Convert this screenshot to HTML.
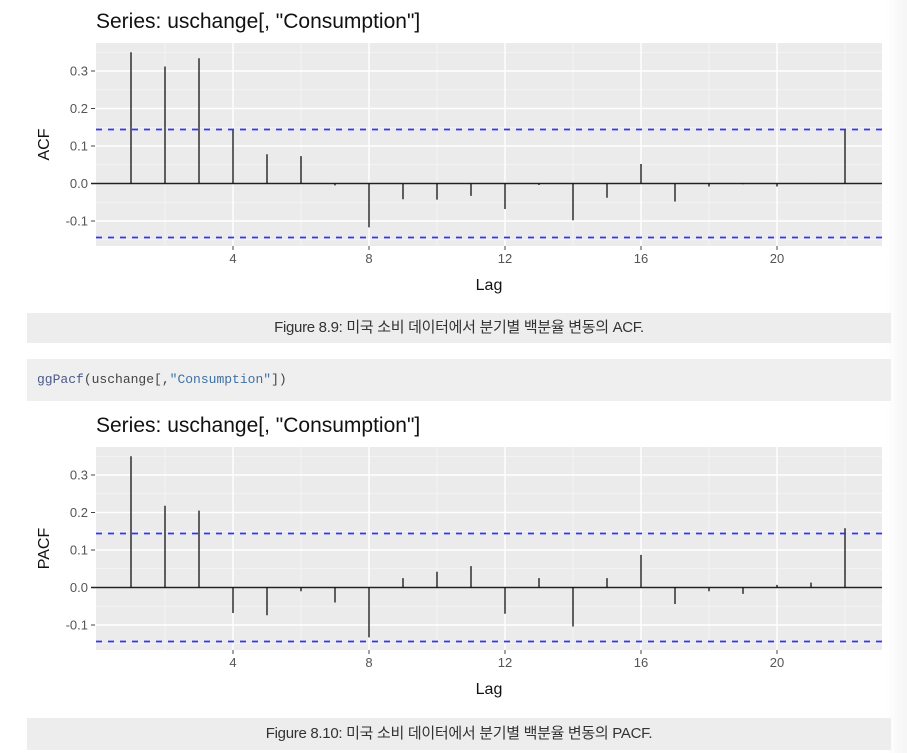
<!DOCTYPE html>
<html><head><meta charset="utf-8">
<style>
body{margin:0;background:#fff;width:907px;height:753px;overflow:hidden;position:relative;font-family:"Liberation Sans","Noto Sans CJK KR",sans-serif}
.shadow{position:absolute;left:886px;top:0;width:21px;height:753px;background:linear-gradient(to right,#fff,#f5f5f5)}
.cap{position:absolute;left:27px;width:864px;background:#ededed;text-align:center;font-size:15px;color:#333;font-family:"Liberation Sans","Noto Sans CJK KR",sans-serif;letter-spacing:-0.3px}
.code{position:absolute;left:27px;top:359px;width:864px;height:42px;background:#efefef;font-family:"Liberation Mono",monospace;font-size:13px;line-height:42px;color:#444}
</style></head><body>
<div class="shadow"></div>
<svg id="c1" width="907" height="300" style="position:absolute;left:0;top:0"></svg>
<div class="cap" style="top:313px;height:30px;line-height:30px">Figure 8.9: 미국 소비 데이터에서 분기별 백분율 변동의 ACF.</div>
<div class="code"><span style="padding-left:10px;color:#4a5a8a">ggPacf</span>(uschange[,<span style="color:#4070a0">"Consumption"</span>])</div>
<svg id="c2" width="907" height="310" style="position:absolute;left:0;top:404px"></svg>
<div class="cap" style="top:718px;height:32px;line-height:32px">Figure 8.10: 미국 소비 데이터에서 분기별 백분율 변동의 PACF.</div>
<script>
const lags=[1,2,3,4,5,6,7,8,9,10,11,12,13,14,15,16,17,18,19,20,21,22];
const acfValues=[0.35,0.312,0.334,0.145,0.078,0.073,-0.005,-0.117,-0.042,-0.043,-0.033,-0.068,-0.004,-0.098,-0.038,0.052,-0.048,-0.008,-0.002,-0.008,0.001,0.145];
const pacfValues=[0.35,0.218,0.205,-0.068,-0.074,-0.01,-0.04,-0.133,0.025,0.042,0.057,-0.07,0.025,-0.104,0.025,0.087,-0.044,-0.01,-0.017,0.007,0.013,0.158];
const yTicks=[0.3,0.2,0.1,0.0,-0.1];
const yTickLabels=["0.3","0.2","0.1","0.0","-0.1"];
const xTicks=[4,8,12,16,20];
const ciBound=0.144;
const NS="http://www.w3.org/2000/svg";
function mk(svg,tag,attrs,name){const e=document.createElementNS(NS,tag);for(const k in attrs)e.setAttribute(k,attrs[k]);


svg.appendChild(e);return e;}
function draw(id,vals,ylab,off){
 const svg=document.getElementById(id);
 const L=96,R=882,T=43+off,B=246+off,y0=183.5+off;
 const x=l=>131+(l-1)*34;
 const y=v=>y0-v*375;
 const t=mk(svg,'text',{x:96,y:28+off,'font-size':21,fill:'#111'},'chart-title');t.textContent='Series: uschange[, "Consumption"]';
 mk(svg,'rect',{x:L,y:T,width:R-L,height:B-T,fill:'#ebebeb'},'panel-background');
 for(let i=0;i<yTicks.length-1;i++){const m=(yTicks[i]+yTicks[i+1])/2;mk(svg,'line',{x1:L,x2:R,y1:y(m),y2:y(m),stroke:'#f6f6f6','stroke-width':0.8},'minor-gridline');}
 mk(svg,'line',{x1:L,x2:R,y1:y(0.35),y2:y(0.35),stroke:'#f6f6f6','stroke-width':0.8},'minor-gridline');
 mk(svg,'line',{x1:L,x2:R,y1:y(-0.15),y2:y(-0.15),stroke:'#f6f6f6','stroke-width':0.8},'minor-gridline');
 [2,6,10,14,18,22].forEach(v=>mk(svg,'line',{x1:x(v),x2:x(v),y1:T,y2:B,stroke:'#f6f6f6','stroke-width':0.8},'minor-gridline'));
 yTicks.forEach((v,i)=>{mk(svg,'line',{x1:L,x2:R,y1:y(v),y2:y(v),stroke:'#fff','stroke-width':1.4},'y-gridline');
  mk(svg,'line',{x1:91,x2:95,y1:y(v),y2:y(v),stroke:'#444','stroke-width':1},'y-tick');
  const tx=mk(svg,'text',{x:88,y:y(v)+4.5,'font-size':13,fill:'#555','text-anchor':'end'},'y-tick-label');tx.textContent=yTickLabels[i];});
 xTicks.forEach(v=>{mk(svg,'line',{x1:x(v),x2:x(v),y1:T,y2:B,stroke:'#fff','stroke-width':1.4},'x-gridline');
  mk(svg,'line',{x1:x(v),x2:x(v),y1:B,y2:B+4,stroke:'#444','stroke-width':1},'x-tick');
  const tx=mk(svg,'text',{x:x(v),y:B+17,'font-size':13,fill:'#555','text-anchor':'middle'},'x-tick-label');tx.textContent=v;});
 mk(svg,'line',{x1:91,x2:R,y1:y(0),y2:y(0),stroke:'#222','stroke-width':1.5},'zero-line');
 vals.forEach((v,i)=>mk(svg,'line',{x1:x(lags[i]),x2:x(lags[i]),y1:y(0),y2:y(v),stroke:'#111','stroke-width':1.3},'lag-spike'));
 [ciBound,-ciBound].forEach(c=>mk(svg,'line',{x1:L,x2:R,y1:y(c),y2:y(c),stroke:'#3333ff','stroke-width':1.8,'stroke-dasharray':'6 6'},'confidence-bound'));
 const xl=mk(svg,'text',{x:489,y:B+44,'font-size':16,fill:'#111','text-anchor':'middle'},'x-axis-title');xl.textContent='Lag';
 const yl=mk(svg,'text',{x:0,y:0,'font-size':16,fill:'#111','text-anchor':'middle',transform:`translate(49,${(T+B)/2}) rotate(-90)`},'y-axis-title');yl.textContent=ylab;
}
draw('c1',acfValues,'ACF',0);
draw('c2',pacfValues,'PACF',0);
</script>
</body></html>
